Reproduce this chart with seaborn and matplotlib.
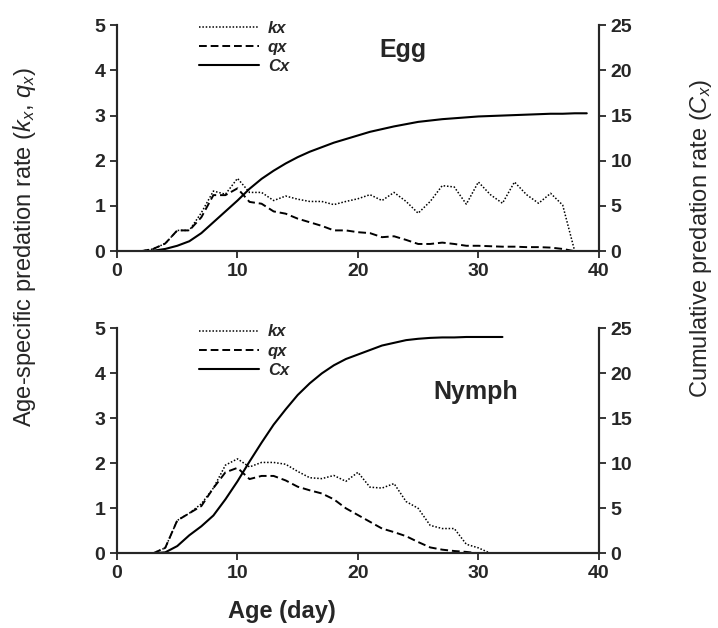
import numpy as np
import pandas as pd
import seaborn as sns
import matplotlib
matplotlib.use("Agg")
import matplotlib.pyplot as plt
from matplotlib.lines import Line2D

# egg stage (day 2..38/39)
egg_days = list(range(2, 39))
egg_kx = [0, 0.05, 0.17, 0.46, 0.46, 0.85, 1.33, 1.26, 1.61, 1.30, 1.30, 1.12, 1.22,
          1.15, 1.10, 1.10, 1.03, 1.10, 1.16, 1.25, 1.12, 1.30, 1.10, 0.84, 1.10, 1.45,
          1.42, 1.04, 1.53, 1.25, 1.06, 1.53, 1.25, 1.06, 1.28, 1.02, 0]
egg_qx = [0, 0.05, 0.17, 0.46, 0.46, 0.75, 1.24, 1.24, 1.39, 1.09, 1.05, 0.88, 0.83,
          0.72, 0.64, 0.56, 0.46, 0.46, 0.42, 0.40, 0.31, 0.33, 0.25, 0.16, 0.16, 0.19,
          0.16, 0.12, 0.12, 0.11, 0.10, 0.10, 0.09, 0.09, 0.08, 0.05, 0]
egg_cdays = list(range(2, 40))
egg_cx = [0, 0.05, 0.25, 0.6, 1.1, 2.0, 3.2, 4.4, 5.6, 6.9, 8.0, 8.9, 9.7, 10.4, 11.0,
          11.5, 12.0, 12.4, 12.8, 13.2, 13.5, 13.8, 14.05, 14.3, 14.45, 14.6, 14.7,
          14.8, 14.9, 14.95, 15.0, 15.05, 15.1, 15.15, 15.2, 15.2, 15.25, 15.25]

# nymph stage
nym_days = list(range(3, 32))
nym_kx = [0, 0.12, 0.73, 0.89, 1.10, 1.45, 1.96, 2.10, 1.92, 2.02, 2.02, 1.98, 1.82,
          1.68, 1.66, 1.73, 1.60, 1.80, 1.47, 1.45, 1.55, 1.15, 1.00, 0.62, 0.55, 0.55,
          0.20, 0.12, 0]
nym_qdays = list(range(3, 31))
nym_qx = [0, 0.12, 0.73, 0.89, 1.05, 1.45, 1.80, 1.90, 1.65, 1.72, 1.72, 1.62, 1.48,
          1.40, 1.33, 1.20, 1.00, 0.85, 0.70, 0.55, 0.47, 0.38, 0.25, 0.13, 0.08, 0.05,
          0.03, 0]
nym_cdays = list(range(3, 33))
nym_cx = [0, 0.1, 0.8, 2.0, 3.0, 4.2, 6.0, 8.0, 10.2, 12.3, 14.3, 16.0, 17.6, 18.9,
          20.0, 20.9, 21.6, 22.1, 22.6, 23.1, 23.4, 23.7, 23.85, 23.95, 24.0, 24.0,
          24.05, 24.05, 24.05, 24.05]

sns.set_style("ticks")
plt.rcParams['font.family'] = ['Liberation Sans', 'DejaVu Sans']
plt.rcParams['mathtext.fontset'] = 'custom'
plt.rcParams['mathtext.rm'] = 'Liberation Sans'
plt.rcParams['mathtext.it'] = 'Liberation Sans:italic'

fig = plt.figure(figsize=(7.18, 6.28), dpi=100)
ax1 = fig.add_axes([0.163, 0.600, 0.671, 0.360])
ax2 = fig.add_axes([0.163, 0.119, 0.671, 0.358])

dot = (0, (1, 1.2))
dash = (0, (4, 2))


def panel(ax, kd, kx, qd, qx, cd, cx, name, nx, ny):
    sns.lineplot(x=kd, y=kx, ax=ax, color='black', lw=1.1, linestyle=dot)
    sns.lineplot(x=qd, y=qx, ax=ax, color='black', lw=1.4, linestyle=dash)
    ax.set_xlim(0, 40)
    ax.set_ylim(0, 5)
    ax.set_xticks([0, 10, 20, 30, 40])
    ax.set_yticks([0, 1, 2, 3, 4, 5])
    axr = ax.twinx()
    sns.lineplot(x=cd, y=cx, ax=axr, color='black', lw=1.5)
    axr.set_ylim(0, 25)
    axr.set_yticks([0, 5, 10, 15, 20, 25])
    for a in (ax, axr):
        a.spines['top'].set_visible(False)
        for s in ('left', 'right', 'bottom'):
            a.spines[s].set_linewidth(1.5)
        a.tick_params(width=1.3, length=5, labelsize=14, direction='out')
        for lab in a.get_xticklabels() + a.get_yticklabels():
            lab.set_fontweight('bold')
        a.set_xlabel('')
        a.set_ylabel('')
    ax.text(nx, ny, name, fontsize=18, fontweight='bold', ha='center', va='center')
    handles = [Line2D([], [], color='black', lw=1.1, linestyle=dot),
               Line2D([], [], color='black', lw=1.4, linestyle=dash),
               Line2D([], [], color='black', lw=1.5)]
    axr.legend(handles, ['kx', 'qx', 'Cx'], loc='upper left',
               bbox_to_anchor=(0.14, 1.085), frameon=False, handlelength=3.6,
               labelspacing=0.25, handletextpad=0.5,
               prop={'size': 12, 'weight': 'bold', 'style': 'italic'})


panel(ax1, egg_days, egg_kx, egg_days, egg_qx, egg_cdays, egg_cx, 'Egg', 23.7, 4.45)
panel(ax2, nym_days, nym_kx, nym_qdays, nym_qx, nym_cdays, nym_cx, 'Nymph', 29.8, 3.58)

fig.text(0.034, 0.607, r'Age-specific predation rate ($k_x$, $q_x$)', rotation=90,
         ha='center', va='center', fontsize=17)
fig.text(0.977, 0.621, r'Cumulative predation rate ($C_x$)', rotation=90,
         ha='center', va='center', fontsize=17)
fig.text(0.393, 0.027, 'Age (day)', ha='center', va='center', fontsize=17,
         fontweight='bold')

fig.savefig('out.png', dpi=100)
